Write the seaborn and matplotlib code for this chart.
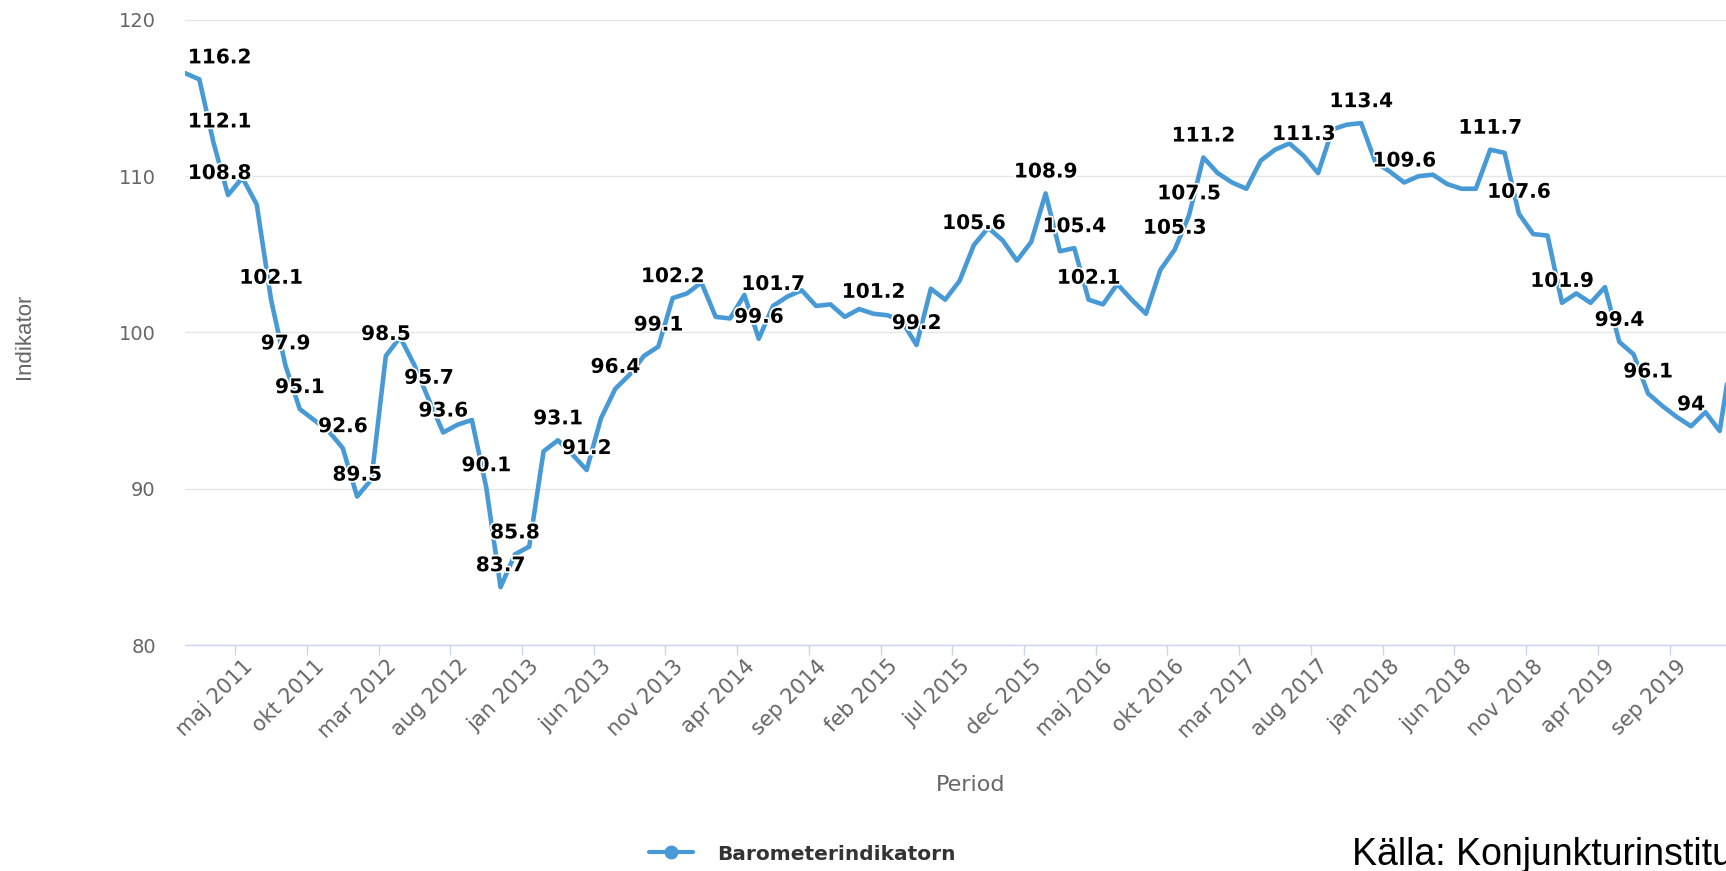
import numpy as np
import pandas as pd
import seaborn as sns
import matplotlib.pyplot as plt
import matplotlib.patheffects as pe
from matplotlib.lines import Line2D

# Barometerindikatorn, månadsvärden från jan 2011 (sista punkten jan 2020 syns bara delvis)
start_year = 2011
values = [
    116.6, 116.2, 112.1, 108.8, 109.9, 108.2, 102.1, 97.9, 95.1, 94.4, 93.7, 92.6,
    89.5, 90.6, 98.5, 99.7, 97.9, 95.7, 93.6, 94.1, 94.4, 90.1, 83.7, 85.8,
    86.3, 92.4, 93.1, 92.2, 91.2, 94.5, 96.4, 97.3, 98.5, 99.1, 102.2, 102.5,
    103.2, 101.0, 100.9, 102.4, 99.6, 101.7, 102.3, 102.7, 101.7, 101.8, 101.0, 101.5,
    101.2, 101.1, 100.7, 99.2, 102.8, 102.1, 103.3, 105.6, 106.7, 105.9, 104.6, 105.8,
    108.9, 105.2, 105.4, 102.1, 101.8, 103.1, 102.1, 101.2, 104.0, 105.3, 107.5, 111.2,
    110.2, 109.6, 109.2, 111.0, 111.7, 112.1, 111.3, 110.2, 113.0, 113.3, 113.4, 110.9,
    110.3, 109.6, 110.0, 110.1, 109.5, 109.2, 109.2, 111.7, 111.5, 107.6, 106.3, 106.2,
    101.9, 102.5, 101.9, 102.9, 99.4, 98.6, 96.1, 95.3, 94.6, 94.0, 94.9, 93.7,
    99.6,
]
# punkter som har en synlig etikett i originalet
labelled = [1, 2, 3, 6, 7, 8, 11, 12, 14, 17, 18, 21, 22, 23, 26, 28, 30, 33, 34,
            40, 41, 48, 51, 55, 60, 62, 63, 69, 70, 71, 78, 82, 85, 91, 93, 96,
            100, 102, 105]
month_names = ["jan", "feb", "mar", "apr", "maj", "jun",
               "jul", "aug", "sep", "okt", "nov", "dec"]
tick_idx = list(range(4, 105, 5))

periods = [f"{month_names[i % 12]} {start_year + i // 12}" for i in range(len(values))]
df = pd.DataFrame({"idx": range(len(values)), "Period": periods, "Indikator": values})

BLUE = "#479ad6"
GREY = "#666666"

sns.set_theme(style="white")
plt.rcParams['font.family'] = ['DejaVu Sans']

W, H = 1726, 871
fig = plt.figure(figsize=(W / 100, H / 100), dpi=100)

# plotytan: vänster kant x=185, 120 vid y=20, 80 vid y=645, 14.34 px per månad
px_month = 14.343
xmax = 110
left, top, bottom = 185, 20, 645
ax = fig.add_axes([left / W, 1 - bottom / H, xmax * px_month / W, (bottom - top) / H])

sns.lineplot(data=df, x="idx", y="Indikator", ax=ax, color=BLUE, linewidth=3.3,
             label="Barometerindikatorn", legend=False)

ax.set_xlim(0, xmax)
ax.set_ylim(80, 120)
ax.set_yticks([80, 90, 100, 110, 120])
ax.yaxis.grid(True, color="#e6e6e6", linewidth=1)
ax.set_axisbelow(True)
for s in ["top", "right", "left"]:
    ax.spines[s].set_visible(False)
ax.spines["bottom"].set_color("#ccd6eb")
ax.spines["bottom"].set_linewidth(1)

ax.set_xticks(tick_idx)
ax.set_xticklabels([periods[i] for i in tick_idx], rotation=45, ha="right",
                   rotation_mode="anchor", color=GREY, fontsize=15)
ax.set_xticks([i - 0.5 for i in tick_idx], minor=True)
ax.tick_params(axis="x", which="major", length=0, pad=8)
ax.tick_params(axis="x", which="minor", length=7.2, width=1, color="#ccd6eb",
               direction="out", bottom=True)
ax.tick_params(axis="y", length=0, pad=21, labelcolor=GREY, labelsize=14)
ax.set_xlabel("")
ax.set_ylabel("")

# dataetiketter
halo = [pe.withStroke(linewidth=2.5, foreground="white")]
for i in labelled:
    v = values[i]
    if i < 4:
        # etiketter vid vänsterkanten skjuts in i plotytan
        ax.annotate(f"{v:g}", xy=(0, v), xycoords=ax.get_yaxis_transform(),
                    xytext=(2, 11.5), textcoords="offset points", ha="left",
                    va="baseline", fontsize=14.5, fontweight="bold", color="black",
                    path_effects=halo, zorder=5)
    else:
        ax.annotate(f"{v:g}", xy=(i, v), xytext=(0, 11.5), textcoords="offset points",
                    ha="center", va="baseline", fontsize=14.5, fontweight="bold",
                    color="black", path_effects=halo, zorder=5)

fig.text(24 / W, 1 - 336 / H, "Indikator", rotation=90, ha="center", va="center",
         color=GREY, fontsize=16, family=["Liberation Sans", "DejaVu Sans"])
fig.text(971 / W, 1 - 785 / H, "Period", ha="center", va="center",
         color=GREY, fontsize=16)

handle = Line2D([], [], color=BLUE, linewidth=3, marker="o", markersize=9)
fig.legend([handle], ["Barometerindikatorn"], loc="center",
           bbox_to_anchor=(802 / W, 1 - 854 / H), frameon=False,
           handlelength=2.2, handletextpad=1.2,
           prop={"weight": "bold", "size": 14.5}, labelcolor="#333333")

fig.text(1352 / W, 1 - 865 / H, "Källa: Konjunkturinstitutet", ha="left",
         va="baseline", color="black", fontsize=27,
         family=["Liberation Sans", "DejaVu Sans"])

fig.savefig("out.png", dpi=100)
